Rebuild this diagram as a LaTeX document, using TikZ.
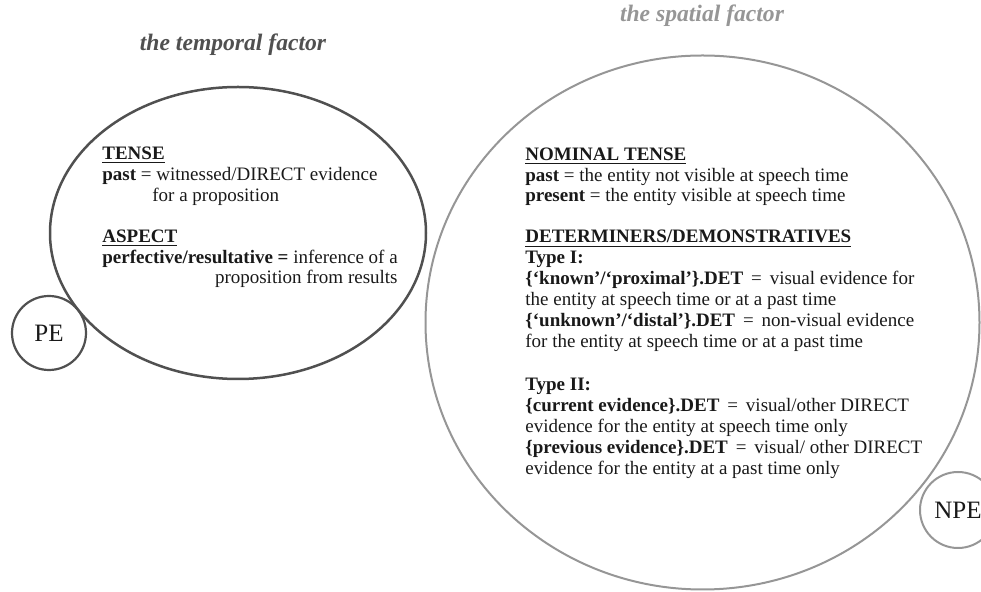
\documentclass[tikz,border=0pt]{standalone}
\usepackage{fontspec}
\setmainfont{Liberation Serif}
\definecolor{tempgray}{RGB}{80,80,80}
\definecolor{spatgray}{RGB}{150,150,150}
\definecolor{inkgray}{RGB}{25,25,25}
\tikzset{every picture/.style={/utils/exec={\fontsize{9.5}{10.45}\selectfont}}}
\usetikzlibrary{shapes.geometric}
\usetikzlibrary{positioning}

\begin{document}
\begin{tikzpicture}[x=0.5pt, y=-0.5pt,
    factor/.style={font=\fontsize{11.8}{13}\selectfont\bfseries\itshape},
    label/.style={font=\fontsize{12.5}{14}\selectfont, text=inkgray},
    block/.style={align=left, anchor=base west, text=inkgray, inner sep=0pt}]
  \useasboundingbox (0,0) rectangle (981,592);

  % the two domains
  \node (temporal) [ellipse, draw=tempgray, line width=1.25pt, minimum width=188pt, minimum height=146pt, inner sep=0pt] at (238,233) {};
  \node (spatial) [ellipse, draw=spatgray, line width=1pt, minimum width=277pt, minimum height=267pt, inner sep=0pt] at (702.5,322.5) {};
  \node (pe) [circle, draw=tempgray, line width=1.1pt, minimum size=37pt, inner sep=0pt, label] at (49,333) {PE};
  \node (npe) [circle, draw=spatgray, line width=1pt, minimum size=38pt, inner sep=0pt, label] at (958,510) {NPE};

  \node (temptitle) [factor, text=tempgray] at (233,45) {the temporal factor};
  \node (spattitle) [factor, text=spatgray] at (702,16) {the spatial factor};

  % temporal factor (placed at the baseline of the last line)
  \node (tense) [block] at (102,201.5) {\textbf{\underline{TENSE}}\\
    \textbf{past} = witnessed/DIRECT evidence\\
    \hspace*{25pt}for a proposition};
  \node (aspect) [block] at (102,263.5) {\textbf{\underline{ASPECT}}\\
    \textbf{perfective/resultative =} inference of a};
  \node (result) [block, anchor=base east] at (398,284) {proposition from results};

  % spatial factor
  \node (nomtense) [block] at (525,202) {\textbf{\underline{NOMINAL TENSE}}\\
    \textbf{past} = the entity not visible at speech time\\
    \textbf{present} = the entity visible at speech time};
  \node (dets) [block] at (525,347.5) {\textbf{\underline{DETERMINERS/DEMONSTRATIVES}}\\
    \textbf{Type I:}\\
    \textbf{\{‘known’/‘proximal’\}.DET} \,=\, visual evidence for\\
    the entity at speech time or at a past time\\
    \textbf{\{‘unknown’/‘distal’\}.DET} \,=\, non-visual evidence\\
    for the entity at speech time or at a past time};
  \node (typetwo) [block] at (525,474.5) {\textbf{Type II:}\\
    \textbf{\{current evidence\}.DET} \,=\, visual/other DIRECT\\
    evidence for the entity at speech time only\\
    \textbf{\{previous evidence\}.DET} \,=\, visual/ other DIRECT\\
    evidence for the entity at a past time only};
\end{tikzpicture}
\end{document}
